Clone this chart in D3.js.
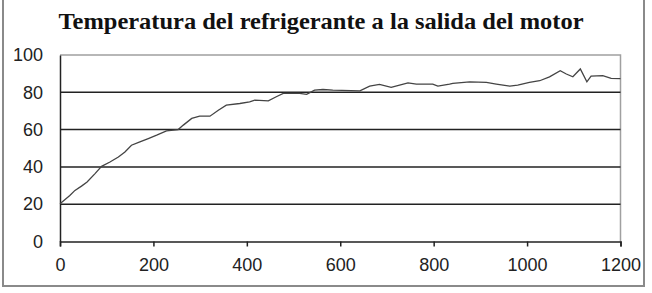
<!DOCTYPE html>
<html><head><meta charset="utf-8">
<script src="https://cdn.jsdelivr.net/npm/d3@7/dist/d3.min.js"></script>
<style>html,body{margin:0;padding:0;background:#fff;}svg{display:block;}</style>
</head><body><svg id="c" width="652" height="293"></svg>
<script>
const title = "Temperatura del refrigerante a la salida del motor";
const times = [0,21,32,46,58,75,89,107,125,139,153,171,189,207,228,253,264,282,299,321,339,356,385,406,417,446,463,478,513,528,545,563,584,642,663,684,709,727,745,763,798,809,834,841,877,913,934,963,980,1005,1027,1048,1071,1084,1098,1114,1128,1137,1162,1180,1200];
const temps = [20.3,24.7,27.4,29.7,31.9,36.4,40.3,42.6,45.3,48,51.6,53.4,55.2,57,59.3,60,62.4,66,67.2,67.2,70.4,73.1,74,74.9,75.8,75.4,77.6,79.4,79.4,78.9,81.2,81.5,81.2,80.8,83.3,84.2,82.6,83.9,85.1,84.4,84.4,83.3,84.4,84.8,85.6,85.3,84.4,83.3,83.9,85.3,86.2,88.3,91.6,89.8,88.3,92.5,85.6,88.7,88.9,87.5,87.3];
const xTicks = [0,200,400,600,800,1000,1200];
const yTicks = [0,20,40,60,80,100];

const svg = d3.select("#c");
const L = 60, R = 620.5, T = 55, B = 241.5;
const x = d3.scaleLinear().domain([0,1200]).range([L,R]);
const y = d3.scaleLinear().domain([0,100]).range([B,T]);

// outer frame
svg.append("rect").attr("x",3).attr("y",-5).attr("width",641).attr("height",291)
  .attr("fill","none").attr("stroke","#8a8a8a").attr("stroke-width",2);

// title
svg.append("text").attr("x",321).attr("y",28.5).attr("text-anchor","middle")
  .attr("font-family","'Liberation Serif','Times New Roman',serif").attr("font-weight","bold")
  .attr("font-size",23).attr("fill","#111")
  .attr("textLength",525).attr("lengthAdjust","spacingAndGlyphs").text(title);

// plot border top/right
svg.append("path").attr("d",`M${L},${T}H${R}V${B}`).attr("fill","none").attr("stroke","#a0a0a0").attr("stroke-width",1.5);

// gridlines
svg.append("g").selectAll("line").data(yTicks.filter(v=>v>0&&v<100)).join("line")
  .attr("x1",L).attr("x2",R).attr("y1",d=>y(d)).attr("y2",d=>y(d))
  .attr("stroke","#222").attr("stroke-width",1.5);

// x axis
const xa = svg.append("g").attr("transform",`translate(0,${B})`)
  .call(d3.axisBottom(x).tickValues(xTicks).tickSize(5).tickPadding(12).tickFormat(d3.format("d")));
xa.select(".domain").attr("stroke","#222").attr("stroke-width",1.5);
xa.selectAll(".tick line").attr("stroke","#222").attr("stroke-width",1.5);
xa.selectAll("text").attr("font-family","'Liberation Sans',Arial,sans-serif").attr("font-size",18).attr("fill","#222");

// y axis
const ya = svg.append("g").attr("transform",`translate(${L},0)`)
  .call(d3.axisLeft(y).tickValues(yTicks).tickSize(0).tickPadding(17));
ya.select(".domain").attr("stroke","#222").attr("stroke-width",1.5);
ya.selectAll("text").attr("font-family","'Liberation Sans',Arial,sans-serif").attr("font-size",18).attr("fill","#222");

// line
const data = times.map((t,i)=>({t,v:temps[i]}));
svg.append("path").datum(data).attr("fill","none").attr("stroke","#444").attr("stroke-width",1.3)
  .attr("d", d3.line().x(d=>x(d.t)).y(d=>y(d.v)));
</script></body></html>
